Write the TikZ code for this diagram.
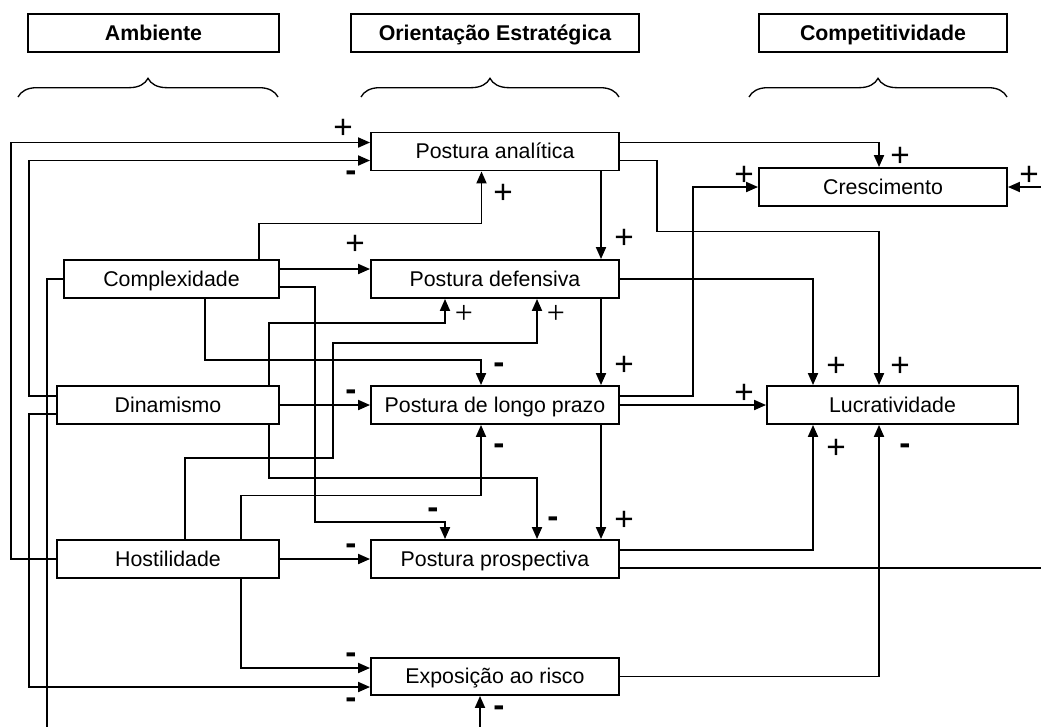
\documentclass[tikz,border=0pt]{standalone}
\usepackage{fontspec}
\setmainfont{Liberation Sans}
\newfontfamily\serifplus{Liberation Serif}
\usetikzlibrary{arrows.meta,calc,decorations.pathreplacing}

\begin{document}
\begin{tikzpicture}[x=0.75pt,y=-0.75pt,
  box/.style={draw,line width=1.4pt,rectangle,inner sep=0pt,minimum height=28.5pt,
    text height=10.5pt,text depth=0pt,font=\fontsize{16}{19}\selectfont},
  head/.style={box,font=\fontsize{16}{19}\selectfont\bfseries},
  link/.style={line width=1.4pt},
  arr/.style={link,-{Triangle[length=9pt,width=7.5pt]}},
  plussign/.style={anchor=base,inner sep=0pt,yshift=-8.8pt,font=\fontsize{25}{30}\selectfont},
  minussign/.style={anchor=base,inner sep=0pt,yshift=-6.4pt,font=\fontsize{25}{30}\selectfont\bfseries},
  thinplus/.style={anchor=base,inner sep=0pt,yshift=-6pt,font=\fontsize{24}{28}\selectfont\serifplus},
  grp/.style={decorate,decoration={brace,amplitude=14pt},line width=1pt}
]
\useasboundingbox (0,0) rectangle (1041,726);
\clip (0,0) rectangle (1041,726);

% column headers and their braces
\node[head,minimum width=188.25pt] (hamb) at (153.5,33) {Ambiente};
\node[head,minimum width=216pt] (hori) at (495,33) {Orientação Estratégica};
\node[head,minimum width=186pt] (hcomp) at (883,33) {Competitividade};
\draw[grp] (18,97) -- (278,97);
\draw[grp] (361,97) -- (619,97);
\draw[grp] (749,97) -- (1007,97);

% variables
\node[box,minimum width=186pt] (pa) at (495,151.5) {Postura analítica};
\node[box,minimum width=186pt] (cr) at (883,187) {Crescimento};
\node[box,minimum width=161.25pt] (cx) at (171.5,279) {Complexidade};
\node[box,minimum width=186pt] (pd) at (495,279) {Postura defensiva};
\node[box,minimum width=166.5pt] (dn) at (168,405) {Dinamismo};
\node[box,minimum width=186pt] (pl) at (495,405) {Postura de longo prazo};
\node[box,minimum width=188.25pt] (lu) at (892.5,405) {Lucratividade};
\node[box,minimum width=166.5pt] (ho) at (168,559) {Hostilidade};
\node[box,minimum width=186pt] (pp) at (495,559) {Postura prospectiva};
\node[box,minimum width=186pt,minimum height=27.75pt] (er) at (495,676.5) {Exposição ao risco};

% environment -> strategic orientation
\draw[arr] (ho.west) -| (11,142.5) -- ($(pa.west)+(0,-9)$);
\draw[arr] ($(dn.west)+(0,-9)$) -| (29,160.5) -- ($(pa.west)+(0,9)$);
\draw[arr] (cx.west) -| (47,740) -| ($(er.south)+(-15,0)$);
\draw[arr] ($(dn.west)+(0,9)$) -| (29,687) -- ($(er.west)+(0,10.5)$);
\draw[arr] ($(ho.south)+(73,0)$) |- ($(er.west)+(0,-8.5)$);
\draw[arr] ($(cx.north)+(87.5,0)$) |- (300,223.5) -| ($(pa.south)+(-13.5,0)$);
\draw[arr] ($(cx.east)+(0,-10)$) -- ($(pd.west)+(0,-10)$);
\draw[arr] ($(cx.east)+(0,8)$) -| (315,522) -| ($(pp.north)+(-50,0)$);
\draw[arr] ($(cx.south)+(33.5,0)$) |- (400,360) -| ($(pl.north)+(-14,0)$);
\draw[arr] ($(dn.north)+(101,0)$) |- (400,323) -| ($(pd.south)+(-50,0)$);
\draw[arr] ($(ho.north)+(17,0)$) |- (333,458) |- (400,343) -| ($(pd.south)+(42,0)$);
\draw[arr] (dn.east) -- (pl.west);
\draw[arr] ($(dn.south)+(101,0)$) |- (400,478) -| ($(pp.north)+(42,0)$);
\draw[arr] ($(ho.north)+(73,0)$) |- (400,495.5) -| ($(pl.south)+(-14,0)$);
\draw[arr] (ho.east) -- (pp.west);

% within strategic orientation
\draw[arr] ($(pa.south)+(106,0)$) -- ($(pd.north)+(106,0)$);
\draw[arr] ($(pd.south)+(106,0)$) -- ($(pl.north)+(106,0)$);
\draw[arr] ($(pl.south)+(106,0)$) -- ($(pp.north)+(106,0)$);

% strategic orientation -> competitiveness
\draw[arr] ($(pa.east)+(0,-9)$) -| ($(cr.north)+(-4,0)$);
\draw[arr] ($(pa.east)+(0,9)$) -| (657,231.5) -| ($(lu.north)+(-13.5,0)$);
\draw[arr] (pd.east) -| ($(lu.north)+(-79.5,0)$);
\draw[arr] ($(pl.east)+(0,-9)$) -| (693,187) -- (cr.west);
\draw[arr] (pl.east) -- (lu.west);
\draw[arr] ($(pp.east)+(0,-9)$) -| ($(lu.south)+(-79.5,0)$);
\draw[arr] ($(pp.east)+(0,9)$) -| (1060,187) -- (cr.east);
\draw[arr] (er.east) -| ($(lu.south)+(-13.5,0)$);

% signs of the effects
\node[plussign] (s1) at (343,127) {+};
\node[plussign] (s2) at (503,192) {+};
\node[plussign] (s3) at (355,243) {+};
\node[plussign] (s4) at (624,237) {+};
\node[plussign] (s5) at (624,364) {+};
\node[plussign] (s6) at (624,519) {+};
\node[plussign] (s7) at (900,155) {+};
\node[plussign] (s8) at (744,174) {+};
\node[plussign] (s9) at (1029,174) {+};
\node[plussign] (s10) at (836,365) {+};
\node[plussign] (s11) at (900,365) {+};
\node[plussign] (s12) at (744,392) {+};
\node[plussign] (s13) at (836,447) {+};
\node[thinplus] (t1) at (464,315) {+};
\node[thinplus] (t2) at (556,315) {+};
\node[minussign] (m1) at (351,173) {-};
\node[minussign] (m2) at (499,365) {-};
\node[minussign] (m3) at (351,392) {-};
\node[minussign] (m4) at (499,446) {-};
\node[minussign] (m5) at (433,510) {-};
\node[minussign] (m6) at (553,519) {-};
\node[minussign] (m7) at (351,546) {-};
\node[minussign] (m8) at (351,655) {-};
\node[minussign] (m9) at (351,700) {-};
\node[minussign] (m10) at (499,708) {-};
\node[minussign] (m11) at (905,446) {-};
\end{tikzpicture}
\end{document}
